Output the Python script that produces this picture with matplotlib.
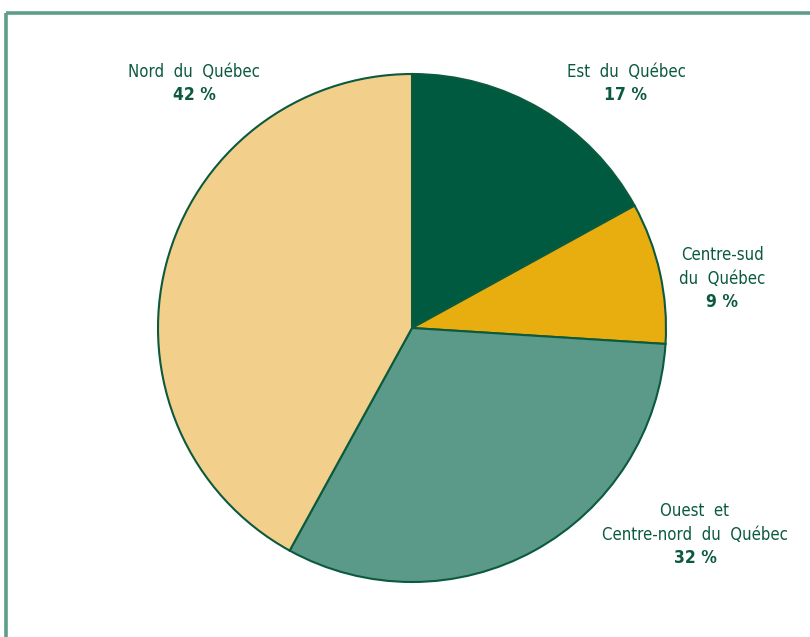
import matplotlib
matplotlib.use("Agg")
from matplotlib import pyplot as plt
from matplotlib.lines import Line2D

# Data (share of the total, in %)
regions = ["Est du Québec", "Centre-sud\ndu Québec",
           "Ouest et\nCentre-nord du Québec", "Nord du Québec"]
shares = [17, 9, 32, 42]
colors = ["#005a40", "#e8ad0f", "#5b9a89", "#f2cf8b"]

TEXT = "#0b5a3e"
FRAME = "#5f9d8b"

plt.rcParams['font.family'] = ['DejaVu Sans']

fig = plt.figure(figsize=(8.1, 6.37), dpi=100)
ax = fig.add_axes([0, 0, 1, 1])

ax.pie(shares, colors=colors, startangle=90, counterclock=False,
       center=(412, 309), radius=254, frame=True,
       wedgeprops=dict(edgecolor=TEXT, linewidth=1.5))
ax.set_xlim(0, 810)
ax.set_ylim(0, 637)
ax.set_aspect('equal')
ax.axis('off')

# label positions (pixel coords from top-left, first line centre)
label_pos = [(626, 72), (722, 255), (695, 511), (194, 72)]
for name, val, (x, y) in zip(regions, shares, label_pos):
    lines = name.split("\n")
    for i, line in enumerate(lines):
        ax.text(x, 637 - y - 23.5 * i, line.replace(" ", "  "), ha='center',
                va='center', color=TEXT, fontsize=12, fontstretch='condensed')
    ax.text(x, 637 - y - 23.5 * len(lines), "%d %%" % val, ha='center',
            va='center', color=TEXT, fontsize=12.5, fontweight='bold',
            fontstretch='condensed')

# frame lines: top and left
ax.add_line(Line2D([5.5, 810], [637 - 13, 637 - 13], color=FRAME, lw=2.6,
                   solid_capstyle='butt'))
ax.add_line(Line2D([5.5, 5.5], [0, 637 - 13], color=FRAME, lw=2.6,
                   solid_capstyle='butt'))

fig.savefig("out.png", dpi=100)
